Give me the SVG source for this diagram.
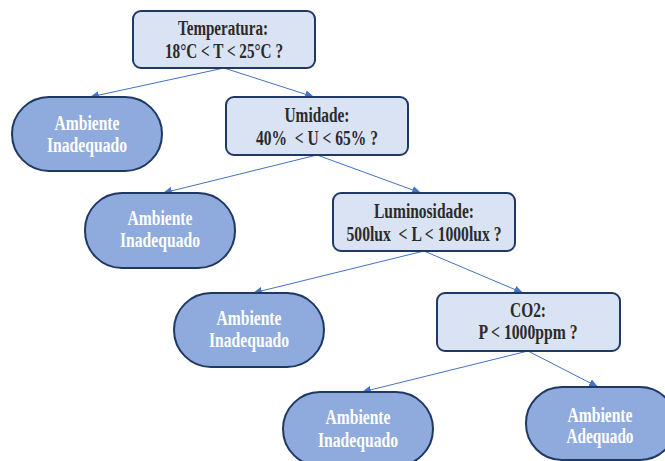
<svg xmlns="http://www.w3.org/2000/svg" width="665" height="461" viewBox="0 0 665 461">
<style>
.dec{fill:#dae3f3;stroke:#1f3864;stroke-width:2}
.leaf{fill:#8faadc;stroke:#1f3864;stroke-width:2}
.dt{font-family:"Liberation Serif","Times New Roman",serif;font-weight:bold;font-size:20px;fill:#2b2b2b;text-anchor:middle;white-space:pre}
.lt{font-family:"Liberation Serif","Times New Roman",serif;font-weight:bold;font-size:20px;fill:#ffffff;text-anchor:middle}
.edge{stroke:#4472c4;stroke-width:1;fill:none;marker-end:url(#ah)}
</style>
<defs>
<marker id="ah" markerUnits="userSpaceOnUse" markerWidth="10" markerHeight="8" refX="9" refY="4" orient="auto">
<path d="M0,0 L9,4 L0,8 z" fill="#4472c4"/>
</marker>
</defs>
<rect width="665" height="461" fill="#ffffff"/>
<g id="connectors">
<line class="edge" x1="224" y1="68" x2="90" y2="97"/>
<line class="edge" x1="224" y1="68" x2="314" y2="97"/>
<line class="edge" x1="317" y1="155" x2="163" y2="193"/>
<line class="edge" x1="317" y1="155" x2="421" y2="193"/>
<line class="edge" x1="424" y1="251" x2="253" y2="293"/>
<line class="edge" x1="424" y1="251" x2="523" y2="293"/>
<line class="edge" x1="528" y1="351" x2="362" y2="392"/>
<line class="edge" x1="528" y1="351" x2="598" y2="387"/>
</g>
<g id="temperatura">
<rect class="dec" x="133" y="11" width="182" height="57" rx="8"/>
<text class="dt" x="223" y="35" textLength="90" lengthAdjust="spacingAndGlyphs">Temperatura:</text>
<text class="dt" x="224" y="58" textLength="118" lengthAdjust="spacingAndGlyphs">18°C &lt; T &lt; 25°C ?</text>
</g>
<g id="leaf1">
<rect class="leaf" x="12" y="97" width="150" height="74" rx="37"/>
<text class="lt" x="87" y="130" textLength="65" lengthAdjust="spacingAndGlyphs">Ambiente</text>
<text class="lt" x="87" y="152" textLength="80" lengthAdjust="spacingAndGlyphs">Inadequado</text>
</g>
<g id="umidade">
<rect class="dec" x="226" y="97" width="182" height="58" rx="8"/>
<text class="dt" x="317" y="122" textLength="65" lengthAdjust="spacingAndGlyphs">Umidade:</text>
<text class="dt" x="317" y="145" textLength="122" lengthAdjust="spacingAndGlyphs" xml:space="preserve">40%  &lt; U &lt; 65% ?</text>
</g>
<g id="leaf2">
<rect class="leaf" x="85" y="193" width="150" height="75" rx="37"/>
<text class="lt" x="160" y="225" textLength="65" lengthAdjust="spacingAndGlyphs">Ambiente</text>
<text class="lt" x="160" y="247" textLength="80" lengthAdjust="spacingAndGlyphs">Inadequado</text>
</g>
<g id="luminosidade">
<rect class="dec" x="333" y="193" width="182" height="58" rx="8"/>
<text class="dt" x="424" y="218" textLength="100" lengthAdjust="spacingAndGlyphs">Luminosidade:</text>
<text class="dt" x="424" y="241" textLength="155" lengthAdjust="spacingAndGlyphs" xml:space="preserve">500lux  &lt; L &lt; 1000lux ?</text>
</g>
<g id="leaf3">
<rect class="leaf" x="174" y="293" width="150" height="74" rx="37"/>
<text class="lt" x="249" y="325" textLength="65" lengthAdjust="spacingAndGlyphs">Ambiente</text>
<text class="lt" x="249" y="347" textLength="80" lengthAdjust="spacingAndGlyphs">Inadequado</text>
</g>
<g id="co2">
<rect class="dec" x="437" y="293" width="183" height="58" rx="8"/>
<text class="dt" x="528" y="317" textLength="36" lengthAdjust="spacingAndGlyphs">CO2:</text>
<text class="dt" x="528" y="339" textLength="99" lengthAdjust="spacingAndGlyphs">P &lt; 1000ppm ?</text>
</g>
<g id="leaf4">
<rect class="leaf" x="283" y="392" width="150" height="74" rx="37"/>
<text class="lt" x="358" y="424" textLength="65" lengthAdjust="spacingAndGlyphs">Ambiente</text>
<text class="lt" x="358" y="447" textLength="80" lengthAdjust="spacingAndGlyphs">Inadequado</text>
</g>
<g id="leaf5">
<rect class="leaf" x="526" y="387" width="150" height="73" rx="36"/>
<text class="lt" x="600" y="422" textLength="65" lengthAdjust="spacingAndGlyphs">Ambiente</text>
<text class="lt" x="600" y="443" textLength="67" lengthAdjust="spacingAndGlyphs">Adequado</text>
</g>
</svg>
